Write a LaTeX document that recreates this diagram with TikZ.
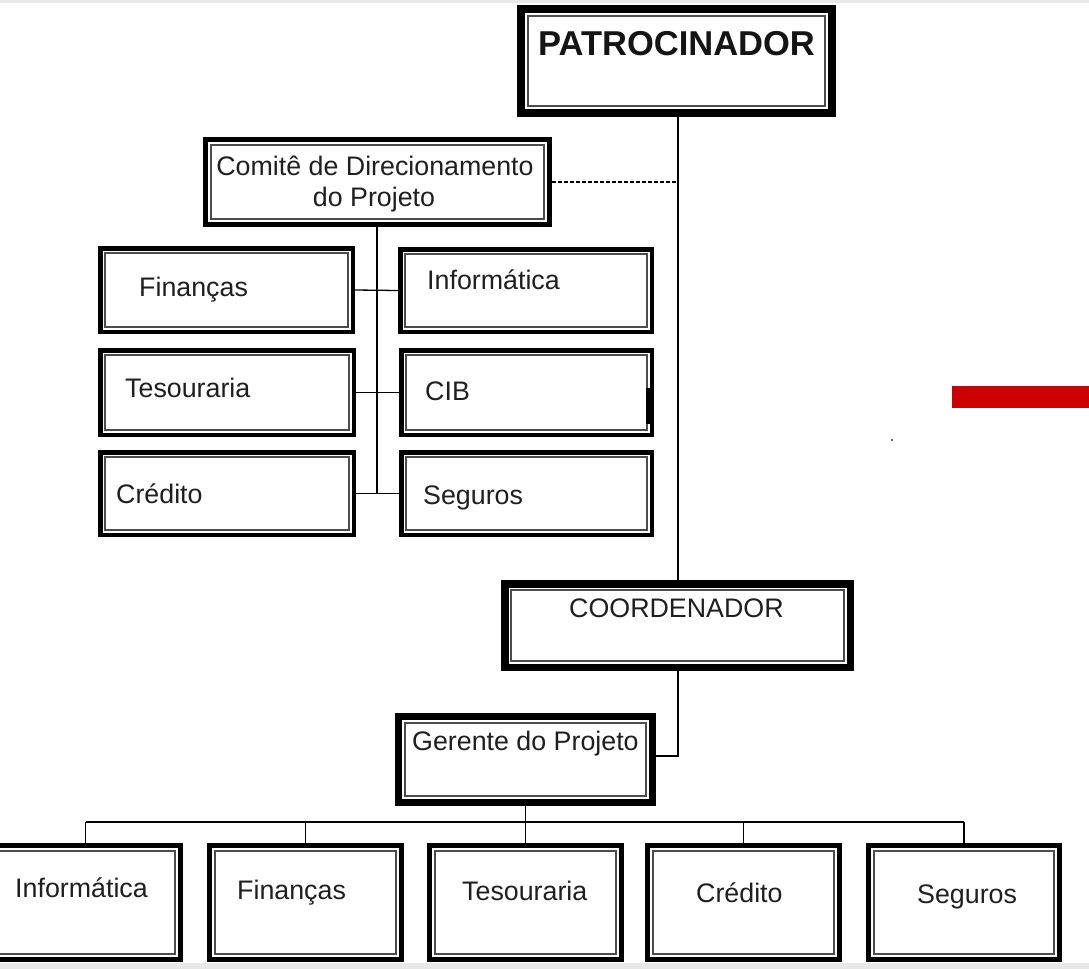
\documentclass[tikz,border=0pt]{standalone}
\usepackage{fontspec}
\setmainfont{Liberation Sans}
\definecolor{strip}{RGB}{232,232,232}
\definecolor{redbar}{RGB}{204,0,0}
\newcommand\obox[7]{%
  \node[draw, line width=#6pt, inner sep=0pt,
        minimum width={(#4-#2-#6)*1pt}, minimum height={(#5-#3-#6)*1pt}]
        (#1) at ({(#2+#4)/2},{(#3+#5)/2}) {};
  \draw[innerline] ({#2+#7},{#3+#7}) rectangle ({#4-#7},{#5-#7});
}
\tikzset{
  innerline/.style={line width=1.2pt, black!70},
  conn/.style={line width=1.3pt, black},
  dsh/.style={line width=1.3pt, black, dash pattern=on 4pt off 2pt},
  lbl/.style={inner sep=0pt, font=\fontsize{26.8}{31}\selectfont, text=black!88},
  big/.style={inner sep=0pt, font=\fontsize{34.5}{40}\selectfont\bfseries, text=black!92},
}
\begin{document}
\begin{tikzpicture}[x=1pt,y=-1pt]
\useasboundingbox (0,0) rectangle (1089,969);
\fill[white] (0,0) rectangle (1089,969);
\fill[strip] (0,0) rectangle (1089,3);
\fill[strip] (0,963) rectangle (1089,969);
\fill[redbar] (952,386) rectangle (1089,408);
\fill[black!60] (891,439) rectangle (893,441);

% boxes
\obox{pat}{517}{5}{836}{117}{8}{11}
\obox{com}{203}{137}{552}{227}{5}{8}
\obox{fin1}{98}{246}{355}{334}{4.5}{7}
\obox{inf1}{398}{247}{654}{334}{4.5}{7}
\obox{tes1}{98}{348}{356}{437}{4.5}{7}
\obox{cib1}{399}{348}{654}{437}{4.5}{7}
\obox{cre1}{98}{450}{356}{537}{4.5}{7}
\obox{seg1}{399}{450}{654}{537}{4.5}{7}
\obox{coord}{501}{580}{854}{671}{7.5}{10}
\obox{ger}{395}{713}{656}{806}{7}{10}
\obox{inf2}{-12}{843}{183}{962}{5}{8}
\obox{fin2}{207}{843}{404}{962}{5}{8}
\obox{tes2}{427}{843}{624}{962}{5}{8}
\obox{cre2}{645}{843}{842}{962}{5}{8}
\obox{seg2}{866}{843}{1062}{962}{5}{8}
\fill[black] (646,388) rectangle (650,424);

% connectors
\coordinate (spine) at (678,0);
\coordinate (dashy) at (0,182);
\coordinate (gy) at (0,756);
\coordinate (cx) at (377,0);
\coordinate (bus) at (0,822);
\draw[conn] (pat.south -| spine) -- (coord.north -| spine);
\draw[dsh] (com.east |- dashy) -- (spine |- dashy);
\draw[conn] (coord.south -| spine) -- (spine |- gy) -- (ger.east |- gy);
\draw[conn] (com.south -| cx) -- (cx |- cre1.east);
\draw[conn] (fin1.east) -- (inf1.west);
\draw[conn] (tes1.east) -- (cib1.west);
\draw[conn] (cre1.east) -- (seg1.west);
\draw[conn] (ger.south) -- (tes2.north);
\draw[conn] (inf2.north |- bus) -- (seg2.north |- bus);
\foreach \n in {inf2,fin2,cre2,seg2} \draw[conn] (\n.north) -- (\n.north |- bus);

% labels
\node[big, anchor=base west] (tpat) at (538,55) {PATROCINADOR};
\node[lbl, anchor=base] (tcom1) at (375,175) {Comitê de Direcionamento};
\node[lbl, anchor=base] (tcom2) at (374,206) {do Projeto};
\node[lbl, anchor=base west] (tfin1) at (139,296) {Finanças};
\node[lbl, anchor=base west] (tinf1) at (427,289) {Informática};
\node[lbl, anchor=base west] (ttes1) at (125,397) {Tesouraria};
\node[lbl, anchor=base west] (tcib1) at (425,400) {CIB};
\node[lbl, anchor=base west] (tcre1) at (116,503) {Crédito};
\node[lbl, anchor=base west] (tseg1) at (423,504) {Seguros};
\node[lbl, anchor=base west] (tcoord) at (569,617) {COORDENADOR};
\node[lbl, anchor=base west] (tger) at (412,750) {Gerente do Projeto};
\node[lbl, anchor=base west] (tinf2) at (15,897) {Informática};
\node[lbl, anchor=base west] (tfin2) at (237,899) {Finanças};
\node[lbl, anchor=base west] (ttes2) at (462,900) {Tesouraria};
\node[lbl, anchor=base west] (tcre2) at (696,902) {Crédito};
\node[lbl, anchor=base west] (tseg2) at (917,903) {Seguros};
\end{tikzpicture}
\end{document}
